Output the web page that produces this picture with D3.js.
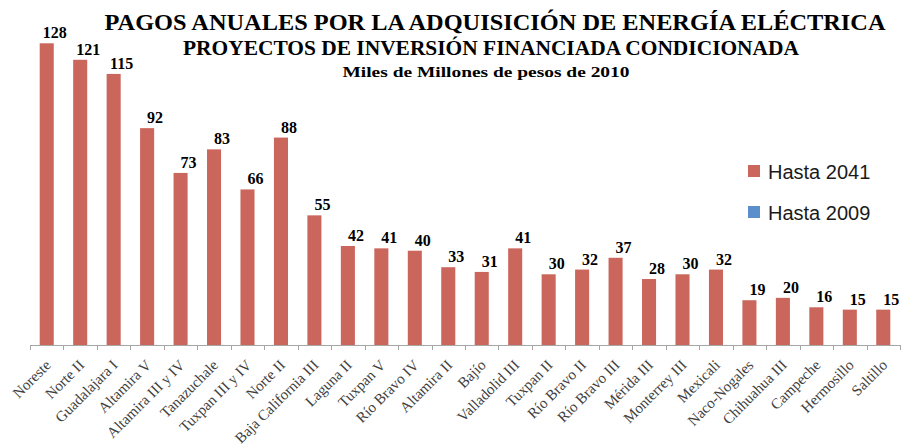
<!DOCTYPE html>
<html>
<head>
<meta charset="utf-8">
<script src="https://cdn.jsdelivr.net/npm/d3@7"></script>
<style>
  body { margin: 0; background: #fff; }
</style>
</head>
<body>
<script>
// datos
var categorias = ["Noreste", "Norte II", "Guadalajara I", "Altamira V", "Altamira III y IV",
  "Tanazuchale", "Tuxpan III y IV", "Norte II", "Baja California III", "Laguna II",
  "Tuxpan V", "Río Bravo IV", "Altamira II", "Bajío", "Valladolid III", "Tuxpan II",
  "Río Bravo II", "Río Bravo III", "Mérida III", "Monterrey III", "Mexicali",
  "Naco-Nogales", "Chihuahua III", "Campeche", "Hermosillo", "Saltillo"];
var hasta2041 = [128, 121, 115, 92, 73, 83, 66, 88, 55, 42, 41, 40, 33, 31, 41, 30,
  32, 37, 28, 30, 32, 19, 20, 16, 15, 15];
var hasta2009 = [0, 0, 0, 0, 0, 0, 0, 0, 0, 0, 0, 0, 0, 0, 0, 0, 0, 0, 0, 0, 0, 0, 0, 0, 0, 0];
var series = ["Hasta 2041", "Hasta 2009"];
var colores = ["#CB665C", "#5B8FCC"];
var titulos = ["PAGOS ANUALES POR LA ADQUISICIÓN DE ENERGÍA ELÉCTRICA",
  "PROYECTOS DE INVERSIÓN FINANCIADA CONDICIONADA",
  "Miles de Millones de pesos de 2010"];

var W = 904, H = 445;
var serif = "'Liberation Serif', 'Times New Roman', Times, serif";
var svg = d3.select("body").append("svg")
    .attr("width", W)
    .attr("height", H);

// escalas
var x = d3.scaleBand()
    .domain(d3.range(categorias.length))
    .range([30, 900])
    .paddingInner(0.58)
    .paddingOuter(0.29);
var y = d3.scaleLinear()
    .domain([0, 140])
    .range([345, 15]);

// barras
svg.selectAll("rect.bar")
    .data(hasta2041)
    .enter()
    .append("rect")
    .attr("class", "bar")
    .attr("x", function (d, i) { return x(i); })
    .attr("y", function (d) { return y(d); })
    .attr("width", x.bandwidth())
    .attr("height", function (d) { return y(0) - y(d); })
    .attr("fill", colores[0]);

// etiquetas de valor
svg.selectAll("text.valor")
    .data(hasta2041)
    .enter()
    .append("text")
    .attr("class", "valor")
    .text(function (d) { return d; })
    .attr("x", function (d, i) { return x(i) + x.bandwidth() / 2 + 8; })
    .attr("y", function (d) { return y(d) - 5; })
    .attr("text-anchor", "middle")
    .attr("font-family", serif)
    .attr("font-weight", "bold")
    .attr("font-size", "16px")
    .attr("fill", "#000");

// eje x
var xBorde = d3.scaleLinear().domain([0, categorias.length]).range([30, 900]);
var gx = svg.append("g");
gx.append("line")
    .attr("x1", 30).attr("x2", 900)
    .attr("y1", y(0) + 0.5).attr("y2", y(0) + 0.5)
    .attr("stroke", "#A6A6A6");
gx.selectAll("line.tick")
    .data(d3.range(categorias.length + 1))
    .enter()
    .append("line")
    .attr("class", "tick")
    .attr("x1", function (d) { return Math.round(xBorde(d)) + 0.5; })
    .attr("x2", function (d) { return Math.round(xBorde(d)) + 0.5; })
    .attr("y1", y(0))
    .attr("y2", y(0) + 5)
    .attr("stroke", "#A6A6A6");
gx.selectAll("text")
    .data(categorias)
    .enter()
    .append("text")
    .text(function (d) { return d; })
    .attr("transform", function (d, i) {
        var cx = x(i) + x.bandwidth() / 2 + 5;
        return "translate(" + cx + "," + (y(0) + 21) + ") rotate(-45)";
    })
    .attr("text-anchor", "end")
    .attr("font-family", serif)
    .attr("font-size", "15px")
    .attr("fill", "#404040");

// títulos
var tDatos = [
  { t: titulos[0], cx: 495, y: 30, fs: 23, w: 781 },
  { t: titulos[1], cx: 491, y: 55, fs: 20, w: 616 },
  { t: titulos[2], cx: 486, y: 77, fs: 15, w: 287 }
];
svg.selectAll("text.titulo")
    .data(tDatos)
    .enter()
    .append("text")
    .attr("class", "titulo")
    .text(function (d) { return d.t; })
    .attr("x", function (d) { return d.cx - d.w / 2; })
    .attr("y", function (d) { return d.y; })
    .attr("textLength", function (d) { return d.w; })
    .attr("lengthAdjust", "spacingAndGlyphs")
    .attr("font-family", serif)
    .attr("font-weight", "bold")
    .attr("font-size", function (d) { return d.fs + "px"; })
    .attr("fill", "#000");

// leyenda
var leyenda = svg.append("g").attr("transform", "translate(748,165)");
var item = leyenda.selectAll("g")
    .data(series)
    .enter()
    .append("g")
    .attr("transform", function (d, i) { return "translate(0," + (i * 41) + ")"; });
item.append("rect")
    .attr("width", 12)
    .attr("height", 12)
    .attr("fill", function (d, i) { return colores[i]; });
item.append("text")
    .text(function (d) { return d; })
    .attr("x", 20)
    .attr("y", 14)
    .attr("font-family", "'Liberation Sans', Arial, sans-serif")
    .attr("font-size", "20px")
    .attr("fill", "#1a1a1a");
</script>
</body>
</html>
